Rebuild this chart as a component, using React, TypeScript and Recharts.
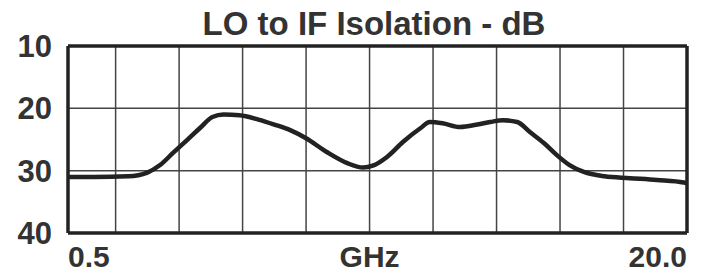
import { LineChart, Line, XAxis, YAxis, CartesianGrid, ReferenceLine } from "recharts";

const TITLE = "LO to IF Isolation - dB";

// frequency in GHz, isolation in dB
const FREQ = [
  0.5, 1.3, 2.4, 3.0, 3.4, 3.8, 4.25, 4.65, 5.05, 5.4, 5.9, 6.5, 7.0, 7.5, 8.0,
  8.65, 9.3, 9.8, 10.1, 10.55, 11.05, 11.6, 11.9, 12.3, 12.85, 13.4, 13.8, 14.2,
  14.65, 15.05, 15.5, 15.9, 16.3, 16.75, 17.4, 18.2, 19.05, 19.9, 20.0,
];
const ISOLATION = [
  31.0, 31.0, 30.9, 30.3, 29.1, 27.2, 25.1, 23.2, 21.4, 21.0, 21.1, 21.8, 22.6,
  23.5, 24.8, 27.0, 28.8, 29.5, 29.2, 27.8, 25.4, 23.2, 22.2, 22.4, 23.0, 22.6,
  22.2, 21.9, 22.2, 23.8, 25.6, 27.5, 29.1, 30.2, 30.9, 31.2, 31.5, 31.9, 32.0,
];

const X_TICKS = [0.5, 2, 4, 6, 8, 10, 12, 14, 16, 18, 20];
const Y_TICKS = [10, 20, 30, 40];

const data = FREQ.map((f, i) => ({ f, db: ISOLATION[i] }));

const FONT = "'Liberation Sans', Arial, sans-serif";
const TEXT = "#333";

function XTick(props: any) {
  const v = props.payload.value;
  let label = "";
  let anchor: "start" | "middle" | "end" = "middle";
  if (v === 0.5) {
    label = "0.5";
    anchor = "start";
  } else if (v === 10) {
    label = "GHz";
  } else if (v === 20) {
    label = "20.0";
    anchor = "end";
  }
  if (!label) return null;
  return (
    <text x={props.x} y={props.y + 34} textAnchor={anchor} fill={TEXT} fontFamily={FONT} fontWeight="bold" fontSize={30}>
      {label}
    </text>
  );
}

function YTick(props: any) {
  return (
    <text x={props.x - 16} y={props.y + 11} textAnchor="end" fill={TEXT} fontFamily={FONT} fontWeight="bold" fontSize={31}>
      {props.payload.value}
    </text>
  );
}

export default function App() {
  return (
    <div style={{ position: "absolute", left: 0, top: 0, width: 705, height: 275, background: "#fff" }}>
      <svg width={705} height={275} style={{ position: "absolute", left: 0, top: 0 }}>
        <text x={374} y={35} textAnchor="middle" fill={TEXT} fontFamily={FONT} fontWeight="bold" fontSize={33}>
          {TITLE}
        </text>
      </svg>
      <div style={{ position: "absolute", left: 0, top: 0 }}>
        <LineChart width={705} height={275} data={data} margin={{ top: 46, right: 18, left: 0, bottom: 0 }}>
          <CartesianGrid stroke="#444" strokeWidth={1.5} horizontalValues={Y_TICKS} verticalValues={X_TICKS} />
          <XAxis
            dataKey="f"
            type="number"
            domain={[0.5, 20]}
            ticks={X_TICKS}
            height={42}
            tickLine={false}
            tickSize={0}
            tickMargin={0}
            axisLine={{ stroke: "#222", strokeWidth: 3.5 }}
            tick={<XTick />}
            interval={0}
          />
          <YAxis
            type="number"
            domain={[10, 40]}
            reversed
            ticks={Y_TICKS}
            width={68}
            tickLine={false}
            tickSize={0}
            tickMargin={0}
            axisLine={{ stroke: "#222", strokeWidth: 3.5 }}
            tick={<YTick />}
            interval={0}
          />
          <ReferenceLine y={10} stroke="#222" strokeWidth={3.5} />
          <ReferenceLine x={20} stroke="#222" strokeWidth={3.5} />
          <Line
            type="monotone"
            dataKey="db"
            stroke="#222"
            strokeWidth={4.5}
            dot={false}
            isAnimationActive={false}
          />
        </LineChart>
      </div>
    </div>
  );
}
